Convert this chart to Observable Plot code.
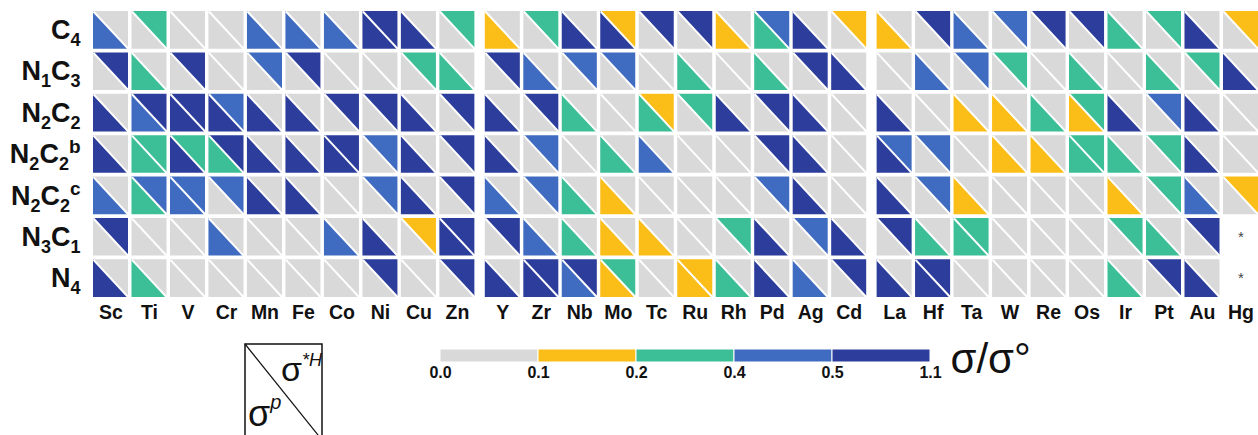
<!DOCTYPE html>
<html><head><meta charset="utf-8">
<script src="https://cdn.jsdelivr.net/npm/d3@7"></script>
<script src="https://cdn.jsdelivr.net/npm/@observablehq/plot@0.6"></script>
<style>
body{margin:0;background:#fff;font-family:"Liberation Sans",Arial,sans-serif;}
#wrap{position:relative;width:1258px;height:435px;overflow:hidden}
#legend{position:relative;width:1258px;height:99px}
#box{position:absolute;left:244px;top:7px}
</style></head><body><div id="wrap"><div id="main"></div><div id="legend"><svg id="box" width="90" height="92"></svg></div></div>
<script>
// ---- data ----
const metals = ["Sc","Ti","V","Cr","Mn","Fe","Co","Ni","Cu","Zn",
                "Y","Zr","Nb","Mo","Tc","Ru","Rh","Pd","Ag","Cd",
                "La","Hf","Ta","W","Re","Os","Ir","Pt","Au","Hg"];
const structures = ["C4","N1C3","N2C2","N2C2b","N2C2c","N3C1","N4"];
// bin index of sigma/sigma°: 0: 0.0–0.1, 1: 0.1–0.2, 2: 0.2–0.4, 3: 0.4–0.5, 4: 0.5–1.1 ; null = not computed (*)
// _H = sigma*H (upper-right triangle), _P = sigma^p (lower-left triangle)
const C4_H    = [0,2,0,0,0,0,0,4,0,2, 0,2,0,1,4,4,0,3,0,1, 0,4,0,3,4,4,0,2,0,1];
const C4_P    = [3,0,0,0,3,3,3,4,4,0, 1,0,4,4,0,0,1,2,4,0, 1,0,3,0,0,0,2,0,4,0];
const N1C3_H  = [4,0,4,0,3,4,0,0,2,0, 4,0,3,3,0,0,0,0,4,0, 0,0,3,2,0,0,0,0,2,0];
const N1C3_P  = [0,2,0,0,0,0,0,0,0,2, 0,3,0,0,0,2,0,2,0,4, 0,3,0,0,0,2,0,2,0,4];
const N2C2_H  = [0,4,4,3,0,0,4,4,0,4, 0,4,0,0,1,2,0,4,0,0, 0,0,0,0,0,2,0,3,0,0];
const N2C2_P  = [4,3,4,4,4,4,0,0,4,0, 4,0,2,0,2,0,4,0,4,0, 4,0,1,1,2,1,4,0,4,0];
const N2C2b_H = [0,2,2,4,0,0,4,3,0,4, 0,3,0,0,0,0,0,4,0,0, 3,3,0,0,0,2,0,2,0,0];
const N2C2b_P = [4,2,4,2,4,4,4,0,4,0, 4,0,0,2,3,0,0,0,4,0, 4,0,0,1,1,2,2,0,4,0];
const N2C2c_H = [0,3,3,3,0,0,0,3,0,4, 0,3,0,0,0,0,0,3,0,0, 0,3,0,0,0,0,0,2,0,1];
const N2C2c_P = [3,2,3,0,4,4,0,0,4,0, 3,0,2,1,0,0,0,0,4,0, 4,0,1,0,0,0,1,0,3,0];
const N3C1_H  = [4,0,0,0,0,0,0,0,1,4, 4,0,0,0,0,0,2,0,3,0, 4,0,2,0,0,0,2,0,4,null];
const N3C1_P  = [0,0,0,3,0,0,3,4,0,4, 0,3,2,1,1,0,0,4,0,4, 0,2,2,0,0,0,0,2,0,null];
const N4_H    = [0,0,0,0,0,0,0,4,0,4, 0,4,4,2,0,1,0,0,0,4, 0,4,0,0,0,0,0,4,0,null];
const N4_P    = [4,2,0,0,0,0,0,0,0,0, 4,4,3,1,0,1,2,4,3,0, 4,4,0,0,0,0,2,0,4,null];
const legendEdges = ["0.0","0.1","0.2","0.4","0.5","1.1"];
const binColors = ["#d9d9d9","#fbbe18","#3cbf96","#3f6cc0","#2c3d9b"];

const sigmaH = [C4_H,N1C3_H,N2C2_H,N2C2b_H,N2C2c_H,N3C1_H,N4_H];
const sigmaP = [C4_P,N1C3_P,N2C2_P,N2C2b_P,N2C2c_P,N3C1_P,N4_P];

// ---- layout in scale units ----
const GAP = 0.18, CW = 0.91, CH = 0.91;
const colLeft = i => i + Math.floor(i / 10) * GAP;

const tri = [], diag = [], missing = [];
structures.forEach((s, r) => metals.forEach((m, c) => {
  const L = colLeft(c), R = L + CW, T = r, B = r + CH;
  const h = sigmaH[r][c], p = sigmaP[r][c];
  if (h == null || p == null) { missing.push({x: (L + R) / 2, y: (T + B) / 2}); return; }
  const id = s + "-" + m;
  tri.push({id: id + "H", x: L, y1: T, y2: T, bin: h}, {id: id + "H", x: R, y1: T, y2: B, bin: h});
  tri.push({id: id + "P", x: L, y1: T, y2: B, bin: p}, {id: id + "P", x: R, y1: B, y2: B, bin: p});
  diag.push({L, R, T, B});
}));

const W = 1258, H1 = 336, gridTop = 11, gridBottom = 297;
const color = {type: "ordinal", domain: [0,1,2,3,4], range: binColors};

const main = Plot.plot({
  width: W, height: H1,
  marginLeft: 93, marginRight: 0, marginTop: gridTop, marginBottom: H1 - gridBottom,
  style: {fontFamily: "Liberation Sans, Arial, sans-serif", color: "#111", background: "transparent"},
  x: {domain: [0, colLeft(metals.length - 1) + CW], axis: null},
  y: {domain: [0, structures.length - 1 + CH], reverse: true, axis: null},
  color,
  marks: [
    Plot.area(tri, {x1: "x", y1: "y1", y2: "y2", z: "id", fill: "bin", curve: "linear"}),
    Plot.link(diag, {x1: "L", y1: "T", x2: "R", y2: "B", stroke: "white", strokeWidth: 2}),
    Plot.text(missing, {x: "x", y: "y", text: () => "*", fontSize: 15, fill: "#444"}),
    Plot.text(structures, {x: 0, y: (d, i) => i + CH / 2, text: d => d, textAnchor: "end", dx: -13,
                           fontSize: 27, fontWeight: "bold", fill: "#111"}),
    Plot.text(metals, {x: (d, i) => colLeft(i) + CW / 2, frameAnchor: "bottom", dy: 21, text: d => d,
                       fontSize: 19.5, fontWeight: "bold", fill: "#111"})
  ]
});
document.getElementById("main").appendChild(main);

// subscripts / superscripts in row labels
const NS = "http://www.w3.org/2000/svg";
d3.select(main).selectAll("text").filter(function () { return structures.includes(this.textContent); })
  .each(function () {
    const s = this.textContent; this.textContent = "";
    let off = 0;
    for (const ch of s) {
      const kind = /\d/.test(ch) ? "sub" : /[a-z]/.test(ch) ? "sup" : "base";
      const target = kind === "sub" ? 7 : kind === "sup" ? -10 : 0;
      const ts = document.createElementNS(NS, "tspan");
      ts.textContent = ch;
      if (kind !== "base") ts.setAttribute("font-size", kind === "sub" ? "18" : "19");
      if (target !== off) { ts.setAttribute("dy", String(target - off)); off = target; }
      this.appendChild(ts);
    }
  });

// ---- colour legend ----
const LH = 99, barTop = 13, barBottom = 26;
const legend = Plot.plot({
  width: W, height: LH,
  marginLeft: 440, marginRight: W - 930, marginTop: barTop, marginBottom: LH - barBottom,
  style: {fontFamily: "Liberation Sans, Arial, sans-serif", color: "#111", background: "transparent", overflow: "visible"},
  x: {domain: [0, legendEdges.length - 1], axis: null},
  y: {axis: null},
  color,
  marks: [
    Plot.rect([0,1,2,3,4], {x1: d => d, x2: d => d + 1, fill: d => d, stroke: "white", strokeWidth: 1}),
    Plot.text(legendEdges, {x: (d, i) => i, frameAnchor: "bottom", dy: 15, text: d => d,
                            fontSize: 16, fontWeight: "bold", fill: "#111"}),
    Plot.text(["σ/σ°"], {x: legendEdges.length - 1, frameAnchor: "middle", dx: 20, dy: 4, textAnchor: "start",
                         text: d => d, fontSize: 42, fill: "#111"})
  ]
});
legend.style.position = "absolute"; legend.style.left = "0"; legend.style.top = "0";
document.getElementById("legend").insertBefore(legend, document.getElementById("box"));

// σ^p / σ^*H key box
const box = d3.select("#box");
box.append("rect").attr("x", 1).attr("y", 1).attr("width", 77).attr("height", 96)
   .attr("fill", "none").attr("stroke", "#111").attr("stroke-width", 1.5);
box.append("line").attr("x1", 1).attr("y1", 1).attr("x2", 78).attr("y2", 97)
   .attr("stroke", "#111").attr("stroke-width", 1.2);
const t1 = box.append("text").attr("x", 37).attr("y", 38).attr("font-size", 34).attr("fill", "#111")
   .attr("font-family", "Liberation Sans, Arial, sans-serif");
t1.append("tspan").text("σ");
t1.append("tspan").text("*H").attr("font-size", 18).attr("font-style", "italic").attr("dy", -15);
const t2 = box.append("text").attr("x", 4).attr("y", 83).attr("font-size", 36).attr("fill", "#111")
   .attr("font-family", "Liberation Sans, Arial, sans-serif");
t2.append("tspan").text("σ");
t2.append("tspan").text("p").attr("font-size", 20).attr("font-style", "italic").attr("dy", -17);
</script></body></html>
